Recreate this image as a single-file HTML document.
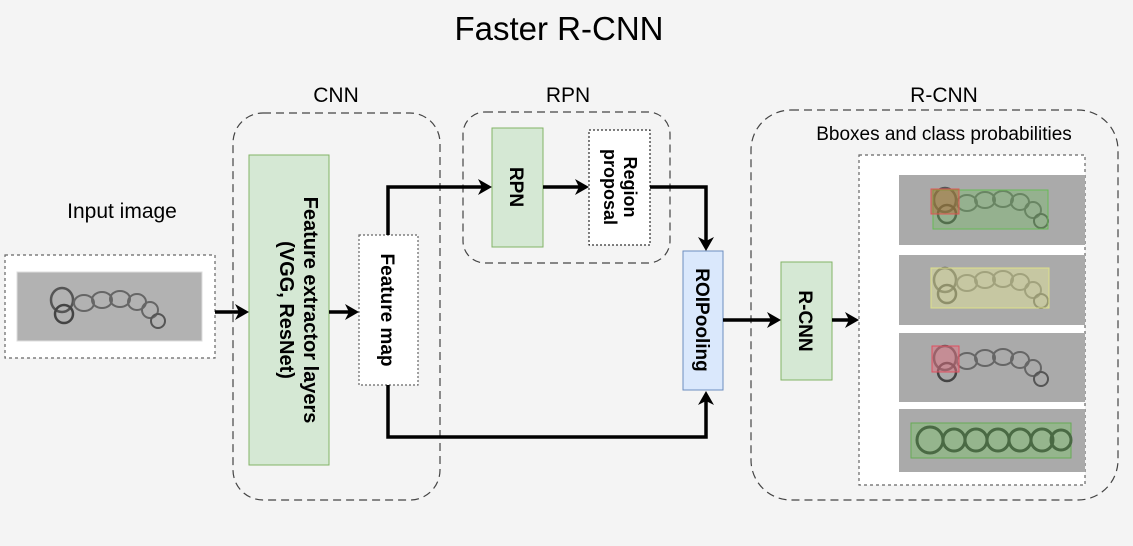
<!DOCTYPE html>
<html><head><meta charset="utf-8"><style>
html,body{margin:0;padding:0;background:#f4f4f4;}
svg{display:block;font-family:"Liberation Sans",Arial,sans-serif;}
</style></head><body>
<svg width="1133" height="546" viewBox="0 0 1133 546" xmlns="http://www.w3.org/2000/svg">
<defs>
<g id="bact">
<ellipse cx="0" cy="0" rx="11" ry="12" fill="none" stroke="#555" stroke-width="2.5"/>
<ellipse cx="2" cy="14" rx="9" ry="9" fill="none" stroke="#444" stroke-width="2.5"/>
<ellipse cx="22" cy="3" rx="10" ry="8" fill="none" stroke="#666" stroke-width="2"/>
<ellipse cx="40" cy="0" rx="10" ry="8" fill="none" stroke="#666" stroke-width="2"/>
<ellipse cx="58" cy="-1" rx="10" ry="8" fill="none" stroke="#666" stroke-width="2"/>
<ellipse cx="75" cy="2" rx="9" ry="8" fill="none" stroke="#666" stroke-width="2"/>
<ellipse cx="88" cy="10" rx="8" ry="8" fill="none" stroke="#666" stroke-width="2"/>
<ellipse cx="96" cy="21" rx="7" ry="7" fill="none" stroke="#555" stroke-width="2"/>
</g>
</defs>
<rect width="1133" height="546" fill="#f4f4f4"/>
<text x="559" y="40" font-size="33" text-anchor="middle" fill="#000">Faster R-CNN</text>

<!-- groups -->
<rect x="233" y="113" width="207" height="387" rx="30" fill="none" stroke="#444" stroke-width="1.2" stroke-dasharray="8 5"/>
<text x="336" y="102" font-size="21" text-anchor="middle">CNN</text>
<rect x="463" y="112" width="207" height="151" rx="22" fill="none" stroke="#444" stroke-width="1.2" stroke-dasharray="8 5"/>
<text x="568" y="102" font-size="21" text-anchor="middle">RPN</text>
<rect x="751" y="110" width="367" height="390" rx="40" fill="none" stroke="#444" stroke-width="1.2" stroke-dasharray="8 5"/>
<text x="944" y="102" font-size="21" text-anchor="middle">R-CNN</text>

<!-- input -->
<text x="122" y="218" font-size="21" text-anchor="middle">Input image</text>
<rect x="5" y="255" width="210" height="103" fill="#fff" stroke="#666" stroke-width="1.2" stroke-dasharray="3 3"/>
<rect x="17" y="272" width="185" height="69" fill="#b2b2b2" stroke="#ddd"/>
<use href="#bact" x="62" y="300"/>

<!-- feature extractor -->
<rect x="249" y="155" width="80" height="310" fill="#d5e8d4" stroke="#82b366"/>
<text transform="translate(289,310) rotate(90)" font-size="20" font-weight="bold" text-anchor="middle"><tspan x="0" y="-15">Feature extractor layers</tspan><tspan x="0" y="9">(VGG, ResNet)</tspan></text>
<rect x="359" y="235" width="59" height="150" fill="#fff" stroke="#666" stroke-width="1.2" stroke-dasharray="2 2"/>
<text transform="translate(388,310) rotate(90)" font-size="19" font-weight="bold" text-anchor="middle" y="7">Feature map</text>

<!-- RPN -->
<rect x="492" y="128" width="51" height="119" fill="#d5e8d4" stroke="#82b366"/>
<text transform="translate(517,187) rotate(90)" font-size="19" font-weight="bold" text-anchor="middle" y="7">RPN</text>
<rect x="589" y="130" width="61" height="115" fill="#fff" stroke="#000" stroke-width="1" stroke-dasharray="2 2"/>
<text transform="translate(619,187) rotate(90)" font-size="18" font-weight="bold" text-anchor="middle"><tspan x="0" y="-5">Region</tspan><tspan x="0" y="15">proposal</tspan></text>

<!-- ROIPooling -->
<rect x="683" y="251" width="40" height="139" fill="#dae8fc" stroke="#6c8ebf"/>
<text transform="translate(703,320) rotate(90)" font-size="19" font-weight="bold" text-anchor="middle" y="7">ROIPooling</text>

<!-- R-CNN -->
<rect x="781" y="262" width="51" height="118" fill="#d5e8d4" stroke="#82b366"/>
<text transform="translate(806,321) rotate(90)" font-size="19" font-weight="bold" text-anchor="middle" y="7">R-CNN</text>

<!-- output -->
<text x="944" y="140" font-size="19" text-anchor="middle">Bboxes and class probabilities</text>
<rect x="859" y="155" width="226" height="330" fill="#fff" stroke="#666" stroke-width="1.2" stroke-dasharray="3 3"/>
<rect x="899" y="175" width="186" height="70" fill="#aaa"/>
<use href="#bact" x="945" y="200"/>
<rect x="933" y="190" width="115" height="39" fill="#6fbf5f" fill-opacity="0.35" stroke="#66bb55"/>
<rect x="931" y="189" width="28" height="25" fill="#b5632f" fill-opacity="0.45" stroke="#d55"/>
<rect x="899" y="255" width="186" height="70" fill="#aaa"/>
<use href="#bact" x="945" y="280"/>
<rect x="931" y="268" width="118" height="40" fill="#e8eb9a" fill-opacity="0.45" stroke="#dde08a"/>
<rect x="899" y="333" width="186" height="69" fill="#aaa"/>
<use href="#bact" x="945" y="358"/>
<rect x="932" y="346" width="27" height="26" fill="#e07080" fill-opacity="0.5" stroke="#e05060"/>
<rect x="899" y="409" width="186" height="63" fill="#aaa"/>
<rect x="911" y="423" width="160" height="35" fill="#7fc070" fill-opacity="0.5" stroke="#66aa55"/>
<g fill="none" stroke="#4a6a44" stroke-width="3">
<circle cx="930" cy="440" r="13"/><circle cx="954" cy="440" r="11"/><circle cx="976" cy="440" r="11"/><circle cx="998" cy="440" r="11"/><circle cx="1020" cy="440" r="11"/><circle cx="1042" cy="440" r="11"/><circle cx="1061" cy="440" r="10"/>
</g>

<!-- connectors -->
<g stroke="#000" stroke-width="3.5" fill="none">
<path d="M215 312 H240"/>
<path d="M329 312 H350"/>
<path d="M388 235 V187 H482"/>
<path d="M543 187 H580"/>
<path d="M650 187 H706 V242"/>
<path d="M388 385 V437 H706 V400"/>
<path d="M723 320 H772"/>
<path d="M832 320 H850"/>
</g>
<g fill="#000">
<path d="M249 312 L235 304 L239 312 L235 320Z"/>
<path d="M359 312 L345 304 L349 312 L345 320Z"/>
<path d="M492 187 L478 179 L482 187 L478 195Z"/>
<path d="M589 187 L575 179 L579 187 L575 195Z"/>
<path d="M706 251 L698 237 L706 241 L714 237Z"/>
<path d="M706 391 L698 405 L706 401 L714 405Z"/>
<path d="M781 320 L767 312 L771 320 L767 328Z"/>
<path d="M859 320 L845 312 L849 320 L845 328Z"/>
</g>
</svg>
</body></html>
